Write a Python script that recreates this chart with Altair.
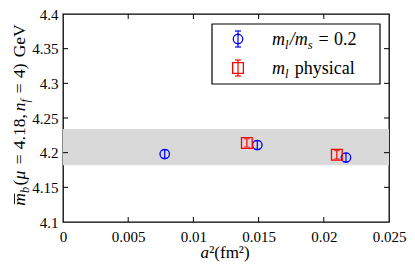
import altair as alt
import pandas as pd

# ---------------- data ----------------
x_ticks = [0, 0.005, 0.01, 0.015, 0.02, 0.025]
y_ticks = [4.1, 4.15, 4.2, 4.25, 4.3, 4.35, 4.4]

blue_x = [0.0078, 0.0149, 0.0217]
blue_y = [4.198, 4.211, 4.193]
blue_err = [0.006, 0.006, 0.006]

red_x = [0.0141, 0.0210]
red_y = [4.214, 4.197]
red_err = [0.006, 0.006]

band_lo = [4.182]
band_hi = [4.234]

# ---------------- layout ----------------
W, H = 326, 208
FONT = "Liberation Serif"
BLUE = "#0000ff"
RED = "#ff0000"

xs = alt.Scale(domain=[x_ticks[0], x_ticks[-1]], nice=False, zero=False)
ys = alt.Scale(domain=[y_ticks[0], y_ticks[-1]], nice=False, zero=False)

AX = alt.Axis(values=x_ticks, format="~g", title=None, tickSize=0, labelPadding=7,
              grid=False, domain=False, labelFont=FONT, labelFontSize=15,
              labelColor="black", labelFlush=False, labelOverlap=False)
AY = alt.Axis(values=y_ticks, format="~g", title=None, tickSize=0, labelPadding=5,
              grid=False, domain=False, labelFont=FONT, labelFontSize=15,
              labelColor="black", labelFlush=False, labelOverlap=False)

ROMAN = {'(': .333, ')': .333, ' ': .25, '=': .564, '.': .25, ',': .25,
         'G': .722, 'e': .444, 'V': .722, 'p': .5, 'h': .5, 'y': .5, 's': .389,
         'i': .278, 'c': .444, 'a': .444, 'l': .278, '/': .278, '\u00b2': .3,
         'f': .333, 'm': .778}
ITAL = {'m': .722, 'b': .5, 'n': .5, 'f': .278, 'l': .278, 's': .389,
        'a': .5, '\u03bc': .576, '/': .278}


def tw(s, italic, size):
    tab = ITAL if italic else ROMAN
    return sum(tab.get(c, .5) for c in s) * size


def text_pieces(pieces, start, base, size, rotated=False):
    """pieces: (text, italic, subscript, leading gap in em)"""
    layers = []
    pos = 0.0
    for txt, italic, sub, gap in pieces:
        pos += gap * size
        fs = size * 0.7 if sub else size
        shift = size * 0.2 if sub else 0
        if rotated:
            xv, yv = base + shift, start - pos
        else:
            xv, yv = start + pos, base + shift
        layers.append(
            alt.Chart(pd.DataFrame({"t": [txt]})).mark_text(
                align="left", baseline="alphabetic", angle=270 if rotated else 0,
                font=FONT, fontSize=fs, fontStyle="italic" if italic else "normal",
                color="black",
            ).encode(text="t:N", x=alt.value(xv), y=alt.value(yv))
        )
        pos += tw(txt, italic, fs) + (0.6 if sub else 0)
    return layers, pos


def pieces_len(pieces, size):
    tot = 0.0
    for txt, italic, sub, gap in pieces:
        tot += gap * size + tw(txt, italic, size * 0.7 if sub else size) + (0.6 if sub else 0)
    return tot


# ---------------- band ----------------
band_df = pd.DataFrame({"x": [x_ticks[0]], "x2": [x_ticks[-1]], "lo": band_lo, "hi": band_hi})
band = alt.Chart(band_df).mark_rect(color="#d9d9d9").encode(
    x=alt.X("x:Q", scale=xs, axis=AX), x2="x2:Q",
    y=alt.Y("lo:Q", scale=ys, axis=AY), y2="hi:Q",
)


def series(xv, yv, ev, color, shape, size):
    df = pd.DataFrame({"x": xv, "y": yv, "err": ev})
    df["lo"] = df["y"] - df["err"]
    df["hi"] = df["y"] + df["err"]
    b = alt.Chart(df)
    X = alt.X("x:Q", scale=xs, axis=AX)
    rule = b.mark_rule(color=color, strokeWidth=1.2).encode(
        x=X, y=alt.Y("lo:Q", scale=ys, axis=AY), y2="hi:Q")
    cap_lo = b.mark_tick(color=color, orient="horizontal", size=6, thickness=1.2).encode(
        x=X, y=alt.Y("lo:Q", scale=ys, axis=AY))
    cap_hi = b.mark_tick(color=color, orient="horizontal", size=6, thickness=1.2).encode(
        x=X, y=alt.Y("hi:Q", scale=ys, axis=AY))
    pt = b.mark_point(shape=shape, size=size, filled=False, color=color,
                      strokeWidth=1.3, opacity=1).encode(
        x=X, y=alt.Y("y:Q", scale=ys, axis=AY))
    return [rule, cap_lo, cap_hi, pt]


blue_layers = series(blue_x, blue_y, blue_err, BLUE, "circle", 90)
red_layers = series(red_x, red_y, red_err, RED, "square", 115)

# ---------------- inward ticks ----------------
TL = 5
xt = alt.Chart(pd.DataFrame({"v": x_ticks[1:-1]}))
yt = alt.Chart(pd.DataFrame({"v": y_ticks[1:-1]}))
tick_layers = [
    xt.mark_rule(color="black").encode(x=alt.X("v:Q", scale=xs, axis=AX), y=alt.value(H), y2=alt.value(H - TL)),
    xt.mark_rule(color="black").encode(x=alt.X("v:Q", scale=xs, axis=AX), y=alt.value(0), y2=alt.value(TL)),
    yt.mark_rule(color="black").encode(y=alt.Y("v:Q", scale=ys, axis=AY), x=alt.value(0), x2=alt.value(TL)),
    yt.mark_rule(color="black").encode(y=alt.Y("v:Q", scale=ys, axis=AY), x=alt.value(W), x2=alt.value(W - TL)),
]

# ---------------- legend ----------------
one = alt.Chart(pd.DataFrame({"a": [0]}))
LX, LX2, LY, LY2 = 149, 317, 10, 70
leg = [one.mark_rect(fill="white", stroke="black", strokeWidth=1.2).encode(
    x=alt.value(LX), x2=alt.value(LX2), y=alt.value(LY), y2=alt.value(LY2))]
MX = 175
for yy, color, shape, size, e in [(25, BLUE, "circle", 90, 8), (54, RED, "square", 115, 8)]:
    leg.append(one.mark_rule(color=color, strokeWidth=1.2).encode(
        x=alt.value(MX), y=alt.value(yy - e), y2=alt.value(yy + e)))
    for c in (yy - e, yy + e):
        leg.append(one.mark_rule(color=color, strokeWidth=1.2).encode(
            x=alt.value(MX - 3), x2=alt.value(MX + 3), y=alt.value(c)))
    leg.append(one.mark_point(shape=shape, size=size, filled=False, color=color,
                              strokeWidth=1.3, opacity=1).encode(
        x=alt.value(MX), y=alt.value(yy)))

LS = 18
p1, _ = text_pieces([("m", True, False, 0), ("l", True, True, 0), ("/m", True, False, 0.03),
                     ("s", True, True, 0), ("=", False, False, 0.3),
                     ("0.2", False, False, 0.3)], 209, 31, LS)
p2, _ = text_pieces([("m", True, False, 0), ("l", True, True, 0),
                     ("physical", False, False, 0.32)], 209, 60, LS)
leg += p1 + p2

# ---------------- axis titles ----------------
XS = 17
xt_pieces = [("a", True, False, 0), ("\u00b2(fm\u00b2)", False, False, 0.02)]
xw = pieces_len(xt_pieces, XS)
xtitle, _ = text_pieces(xt_pieces, 162 - xw / 2, 244, XS)

yt_pieces = [("m", True, False, 0), ("b", True, True, 0), ("(", False, False, 0.05),
             ("\u03bc", True, False, 0), ("=", False, False, 0.3),
             ("4.18,", False, False, 0.3), ("n", True, False, 0.17),
             ("f", True, True, 0), ("=", False, False, 0.3),
             ("4)", False, False, 0.3), ("GeV", False, False, 0.35)]
YS = 17.5
yw = pieces_len(yt_pieces, YS)
ystart = 101 + yw / 2
YBASE = -38
ytitle, _ = text_pieces(yt_pieces, ystart, YBASE, YS, rotated=True)
mw = tw("m", True, YS)
ytitle.append(one.mark_rule(color="black", strokeWidth=0.9).encode(
    x=alt.value(YBASE - YS * 0.6), y=alt.value(ystart - 1.5), y2=alt.value(ystart - mw + 0.5)))

chart = alt.layer(
    band, *blue_layers, *red_layers, *tick_layers, *leg, *xtitle, *ytitle
).properties(
    width=W, height=H,
    autosize=alt.AutoSizeParams(type="none"),
    padding={"left": 55, "top": 6, "right": 18, "bottom": 40},
).configure_view(stroke="black", strokeWidth=1.3)

chart.save("out.html", embed_options={"renderer": "svg", "actions": False})
